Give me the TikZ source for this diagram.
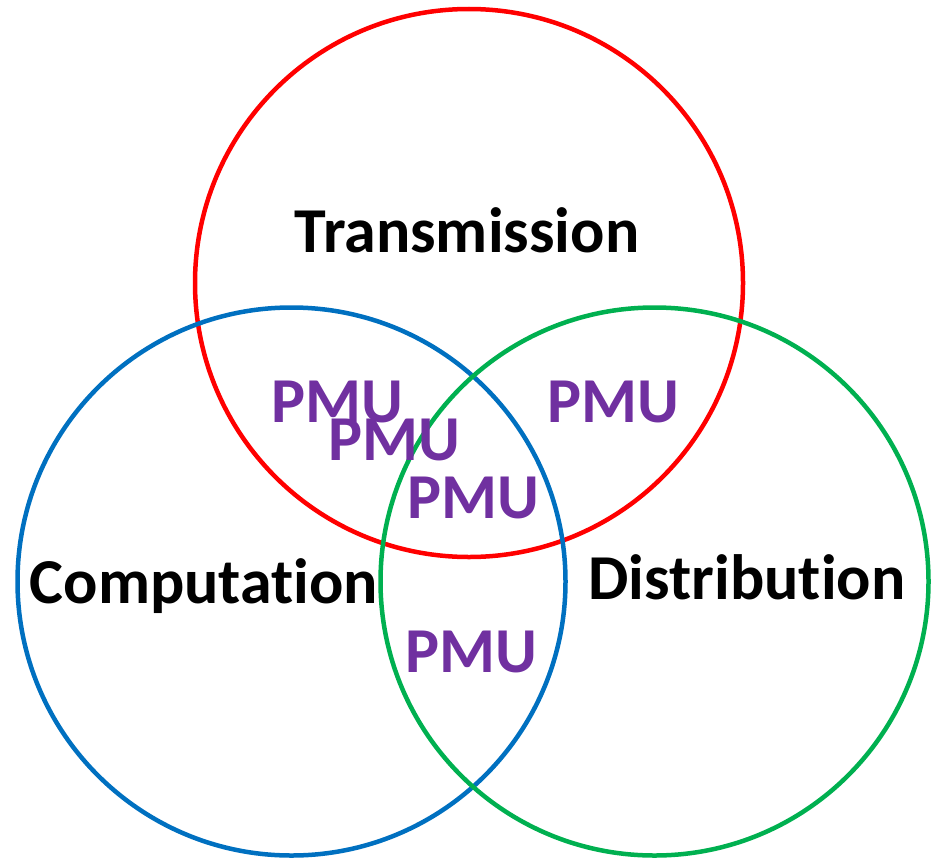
\documentclass[tikz,border=0pt]{standalone}
\usepackage{fontspec}
\setmainfont[Ligatures={NoCommon},RawFeature={-liga;-clig}]{Carlito}
\definecolor{cred}{HTML}{FF0000}
\definecolor{cblue}{HTML}{0070C0}
\definecolor{cgreen}{HTML}{00B050}
\definecolor{cpurple}{HTML}{7030A0}
\begin{document}
\begin{tikzpicture}[x=1pt,y=-1pt,
  ring/.style={line width=4.5pt},
  title/.style={anchor=base,inner sep=0pt,font=\fontsize{64}{64}\selectfont\bfseries,text=black},
  pmu/.style={anchor=base,inner sep=0pt,font=\fontsize{64}{64}\selectfont\bfseries,text=cpurple}]
\useasboundingbox (0,0) rectangle (936,859);
\draw[ring,cred] (469,283) circle[radius=274];
\draw[ring,cblue] (291.5,581.5) circle[radius=274];
\draw[ring,cgreen] (654.5,581.5) circle[radius=274];
\node[title] (trans) at (467,252) {Transmission};
\node[title] (comp) at (204,603) {Computation};
\node[title] (dist) at (747,599) {Distribution};
\node[pmu] (p1) at (337,422) {PMU};
\node[pmu] (p2) at (394,460) {PMU};
\node[pmu] (p3) at (473,518) {PMU};
\node[pmu] (p4) at (613,422) {PMU};
\node[pmu] (p5) at (471,672) {PMU};
\end{tikzpicture}
\end{document}
